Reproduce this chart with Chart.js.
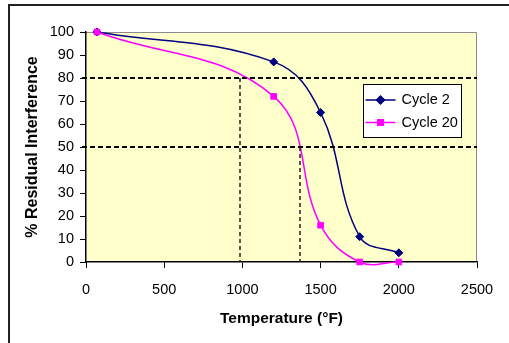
<!DOCTYPE html>
<html>
<head>
<meta charset="utf-8">
<script src="https://cdn.jsdelivr.net/npm/chart.js@4.4.0/dist/chart.umd.min.js"></script>
<style>
    html, body { margin: 0; padding: 0; background: #fff; }
    canvas { display: block; }
</style>
</head>
<body>
<canvas id="chart" width="509" height="343"></canvas>
<script>
// values
const temperatures = [70, 1200, 1500, 1750, 2000];
const cycle2 = [100, 87, 65, 11, 4];
const cycle20 = [100, 72, 16, 0, 0];
const xTickValues = [0, 500, 1000, 1500, 2000, 2500];
const yTickValues = [0, 10, 20, 30, 40, 50, 60, 70, 80, 90, 100];
const seriesLabels = ['Cycle 2', 'Cycle 20'];
// dashed guide lines: levels (%) and where the curves cross them (°F)
const guideLevels = [80, 50];
const guideTemps = [985, 1370];

const FONT = "'Liberation Sans', Arial, sans-serif";

function toPoints(values) {
    return temperatures.map(function(t, i) { return { x: t, y: values[i] }; });
}

// background, outer frame and the yellow plot area
const backgroundPlugin = {
    id: 'background',
    beforeDraw: function(chart) {
        const ctx = chart.ctx;
        const a = chart.chartArea;
        ctx.save();
        ctx.fillStyle = '#fff';
        ctx.fillRect(0, 0, chart.width, chart.height);
        ctx.strokeStyle = '#222';
        ctx.lineWidth = 2;
        ctx.strokeRect(9, 5, chart.width + 20, chart.height + 20);
        ctx.fillStyle = '#ffffcc';
        ctx.fillRect(a.left, a.top, a.right - a.left, a.bottom - a.top);
        ctx.strokeStyle = '#8c8c8c';
        ctx.lineWidth = 1;
        ctx.beginPath();
        ctx.moveTo(a.left, a.top + 0.5);
        ctx.lineTo(a.right - 0.5, a.top + 0.5);
        ctx.lineTo(a.right - 0.5, a.bottom);
        ctx.stroke();
        ctx.restore();
    }
};

// dashed lines marking 80% and 50%
const guidePlugin = {
    id: 'guides',
    afterDatasetsDraw: function(chart) {
        const ctx = chart.ctx;
        const xs = chart.scales.x;
        const ys = chart.scales.y;
        const a = chart.chartArea;
        ctx.save();
        ctx.strokeStyle = '#000';
        ctx.lineWidth = 2;
        ctx.setLineDash([5, 3]);
        guideLevels.forEach(function(level) {
            const y = Math.round(ys.getPixelForValue(level));
            ctx.beginPath();
            ctx.moveTo(a.left - 4, y);
            ctx.lineTo(a.right, y);
            ctx.stroke();
        });
        ctx.strokeStyle = '#222';
        ctx.lineWidth = 1.5;
        ctx.setLineDash([4, 3]);
        guideTemps.forEach(function(temp, i) {
            const x = Math.round(xs.getPixelForValue(temp));
            ctx.beginPath();
            ctx.moveTo(x, ys.getPixelForValue(guideLevels[i]));
            ctx.lineTo(x, a.bottom);
            ctx.stroke();
        });
        ctx.restore();
    }
};

// boxed legend inside the plot area
const legendPlugin = {
    id: 'boxLegend',
    afterDraw: function(chart) {
        const ctx = chart.ctx;
        const box = { x: 363.5, y: 84.5, w: 98, h: 53 };
        ctx.save();
        ctx.fillStyle = '#fff';
        ctx.fillRect(box.x, box.y, box.w, box.h);
        ctx.strokeStyle = '#000';
        ctx.lineWidth = 1;
        ctx.strokeRect(box.x, box.y, box.w, box.h);
        ctx.font = '14.5px ' + FONT;
        ctx.textBaseline = 'middle';
        chart.data.datasets.forEach(function(ds, i) {
            const y = box.y + 15.5 + i * 22.5;
            const x0 = box.x + 2;
            ctx.strokeStyle = ds.borderColor;
            ctx.fillStyle = ds.borderColor;
            ctx.lineWidth = 1.5;
            ctx.beginPath();
            ctx.moveTo(x0, y);
            ctx.lineTo(x0 + 30, y);
            ctx.stroke();
            Chart.helpers.drawPoint(ctx, {
                pointStyle: ds.pointStyle,
                radius: ds.pointRadius,
                borderWidth: 1,
                rotation: 0
            }, x0 + 15, y);
            ctx.fillStyle = '#000';
            ctx.fillText(ds.label, x0 + 36, y);
        });
        ctx.restore();
    }
};

function plainTick(value) {
    return String(value);
}

const ctx = document.getElementById('chart').getContext('2d');
const chart = new Chart(ctx, {
    type: 'scatter',
    data: {
        datasets: [{
            label: seriesLabels[0],
            data: toPoints(cycle2),
            showLine: true,
            borderColor: '#000080',
            backgroundColor: '#000080',
            borderWidth: 1.5,
            pointStyle: 'rectRot',
            pointRadius: 4,
            pointBorderWidth: 1,
            tension: 0.4,
            clip: 8,
            order: 2
        }, {
            label: seriesLabels[1],
            data: toPoints(cycle20),
            showLine: true,
            borderColor: '#ff00ff',
            backgroundColor: '#ff00ff',
            borderWidth: 1.5,
            pointStyle: 'rect',
            pointRadius: 4,
            pointBorderWidth: 1,
            tension: 0.4,
            clip: 8,
            order: 1
        }]
    },
    options: {
        responsive: false,
        animation: false,
        devicePixelRatio: 1,
        elements: { line: { capBezierPoints: false } },
        layout: { padding: { left: 0, top: 32, right: 32, bottom: 0 } },
        plugins: {
            legend: { display: false },
            tooltip: { enabled: false }
        },
        scales: {
            x: {
                type: 'linear',
                min: 0,
                max: 2500,
                afterBuildTicks: function(scale) {
                    scale.ticks = xTickValues.map(function(v) { return { value: v }; });
                },
                afterFit: function(scale) { scale.height = 81; },
                ticks: { color: '#000', font: { family: FONT, size: 14.5 }, padding: 13, callback: plainTick },
                grid: { drawOnChartArea: false, tickLength: 6, color: '#000', tickColor: '#000' },
                border: { color: '#000', width: 1.5 },
                title: {
                    display: true,
                    text: 'Temperature (°F)',
                    color: '#000',
                    font: { family: FONT, size: 15.5, weight: 'bold' },
                    padding: { top: 0, bottom: 15 }
                }
            },
            y: {
                type: 'linear',
                min: 0,
                max: 100,
                afterBuildTicks: function(scale) {
                    scale.ticks = yTickValues.map(function(v) { return { value: v }; });
                },
                afterFit: function(scale) { scale.width = 86; },
                ticks: { color: '#000', font: { family: FONT, size: 14.5 }, padding: 6, callback: plainTick },
                grid: { drawOnChartArea: false, tickLength: 6, color: '#000', tickColor: '#000' },
                border: { color: '#000', width: 1.5 },
                title: {
                    display: true,
                    text: '% Residual Interference',
                    color: '#000',
                    font: { family: FONT, size: 16, weight: 'bold' },
                    padding: { top: 23, bottom: 0 }
                }
            }
        }
    },
    plugins: [backgroundPlugin, guidePlugin, legendPlugin]
});
</script>
</body>
</html>
